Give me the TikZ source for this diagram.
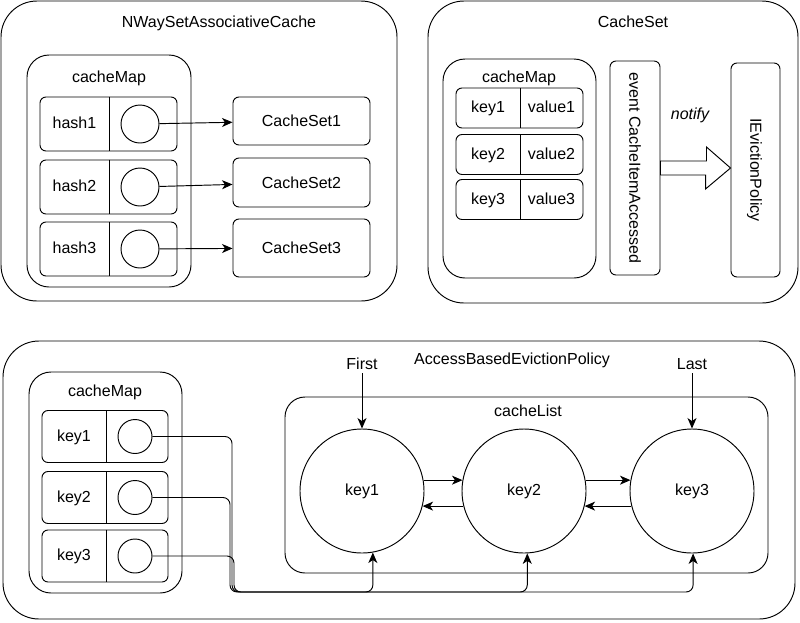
\documentclass[tikz,border=0pt]{standalone}
\usepackage{fontspec}
\setmainfont{Liberation Sans}
\usetikzlibrary{arrows.meta,calc}
\newcommand\myfs{\fontsize{16pt}{19pt}\selectfont}
\begin{document}
\begin{tikzpicture}[x=1pt,y=-1pt,line width=0.95pt,
  every node/.style={font=\myfs, inner sep=0pt, text height=12.5pt, text depth=3.4pt},
  outerbox/.style={draw, rectangle, rounded corners=36pt, text height=, text depth=},
  mapbox/.style={draw, rectangle, rounded corners=22pt, text height=, text depth=},
  rowbox/.style={draw, rectangle, rounded corners=6pt, text height=, text depth=},
  hole/.style={draw, circle, text height=, text depth=},
  arr/.style={-{Stealth[length=10.5pt,width=9pt,inset=3pt]}},
  roundpath/.style={rounded corners=7pt}]
\useasboundingbox (0,0) rectangle (800,622);

% ---------------- NWaySetAssociativeCache ----------------
\node[outerbox, minimum width=396pt, minimum height=300pt] (nway) at (199,151) {};
\node (nwayT) at (219,23) {NWaySetAssociativeCache};
\node[mapbox, minimum width=164pt, minimum height=232pt] (mapA) at (109,171) {};
\node (mapAT) at (109,78) {cacheMap};
\coordinate (dA) at (109,0);
\foreach \i/\y in {1/124,2/187,3/249}{
  \node[rowbox, minimum width=137pt, minimum height=54pt] (ra\i) at (108.5,\y) {};
  \draw (ra\i.north -| dA) -- (ra\i.south -| dA);
  \node (ha\i) at (74.5,\y) {hash\i};
  \node[hole, minimum size=38pt] (ca\i) at (140,\y) {};
}
\node[rowbox, minimum width=137pt, minimum height=48pt] (cs1) at (301.5,121) {CacheSet1};
\node[rowbox, minimum width=137pt, minimum height=49pt] (cs2) at (301.5,182.5) {CacheSet2};
\node[rowbox, minimum width=137pt, minimum height=58pt] (cs3) at (301.5,248) {CacheSet3};
\draw[arr] (ca1) -- (cs1);
\draw[arr] (ca2) -- (cs2);
\draw[arr] (ca3) -- (cs3);

% ---------------- CacheSet ----------------
\node[outerbox, minimum width=370pt, minimum height=302pt] (cset) at (613,152) {};
\node (csetT) at (633,23) {CacheSet};
\node[mapbox, minimum width=153pt, minimum height=219pt] (mapB) at (519.5,168.5) {};
\node (mapBT) at (519,78) {cacheMap};
\coordinate (dB) at (520,0);
\foreach \i/\y in {1/108,2/154.5,3/199.5}{
  \node[rowbox, minimum width=127pt, minimum height=40pt] (rb\i) at (519.5,\y) {};
  \draw (rb\i.north -| dB) -- (rb\i.south -| dB);
  \node (kb\i) at (488,\y) {key\i};
  \node (vb\i) at (551.5,\y) {value\i};
}
\node[rowbox, minimum width=50pt, minimum height=214pt] (ev) at (635,168) {};
\node[rotate=-90] (evT) at (634,168) {event CacheItemAccessed};
\node[rowbox, minimum width=49pt, minimum height=214pt] (iep) at (755.5,170) {};
\node[rotate=-90] (iepT) at (755,170) {IEvictionPolicy};
\draw[fill=white] ($(ev.east)+(0,-7)$) -- ++(46,0) -- ++(0,-14) -- (iep.west |- ev.east)
   -- ++(-25,21) -- ++(0,-14) -- ($(ev.east)+(0,7)$) -- cycle;
\node[font=\myfs\itshape] (notify) at (690,115) {notify};

% ---------------- AccessBasedEvictionPolicy ----------------
\node[outerbox, minimum width=792pt, minimum height=278pt] (abep) at (399,480) {};
\node (abepT) at (512,360) {AccessBasedEvictionPolicy};
\node[mapbox, minimum width=153pt, minimum height=221pt] (mapC) at (105.5,482.5) {};
\node (mapCT) at (105,392) {cacheMap};
\coordinate (dC) at (106,0);
\foreach \i/\y in {1/436.5,2/497.5,3/556}{
  \node[rowbox, minimum width=126pt, minimum height=52pt] (rc\i) at (105,\y) {};
  \draw (rc\i.north -| dC) -- (rc\i.south -| dC);
  \node (kc\i) at (74,\y) {key\i};
  \node[hole, minimum size=34pt] (m\i) at (135,\y) {};
}
\node[mapbox, rounded corners=20pt, minimum width=483pt, minimum height=176pt] (clist) at (526.5,485) {};
\node (clistT) at (528,412) {cacheList};
\node[hole, minimum size=124pt] (L1) at (362,491) {key1};
\node[hole, minimum size=124pt] (L2) at (524,491) {key2};
\node[hole, minimum size=124pt] (L3) at (692,491) {key3};
\node (first) at (362,365) {First};
\node (last) at (692,365) {Last};
\draw[arr] (first) -- (L1);
\draw[arr] (last) -- (L3);
\draw[arr] (L1.10) -- (L2.170);
\draw[arr] (L2.194) -- (L1.346);
\draw[arr] (L2.10) -- (L3.170);
\draw[arr] (L3.194) -- (L2.346);

\coordinate (bus) at (0,592);
\coordinate (v1) at (232,0);
\coordinate (v2) at (230,0);
\coordinate (v3) at (234,0);
\draw[arr,roundpath] (m1.east) -- (m1.east -| v1) -- (v1 |- bus) -| (L1.-80);
\draw[arr,roundpath] (m2.east) -- (m2.east -| v2) -- (v2 |- bus) -| (L2.-87);
\draw[arr,roundpath] (m3.east) -- (m3.east -| v3) -- (v3 |- bus) -| (L3.-89);
\end{tikzpicture}
\end{document}
